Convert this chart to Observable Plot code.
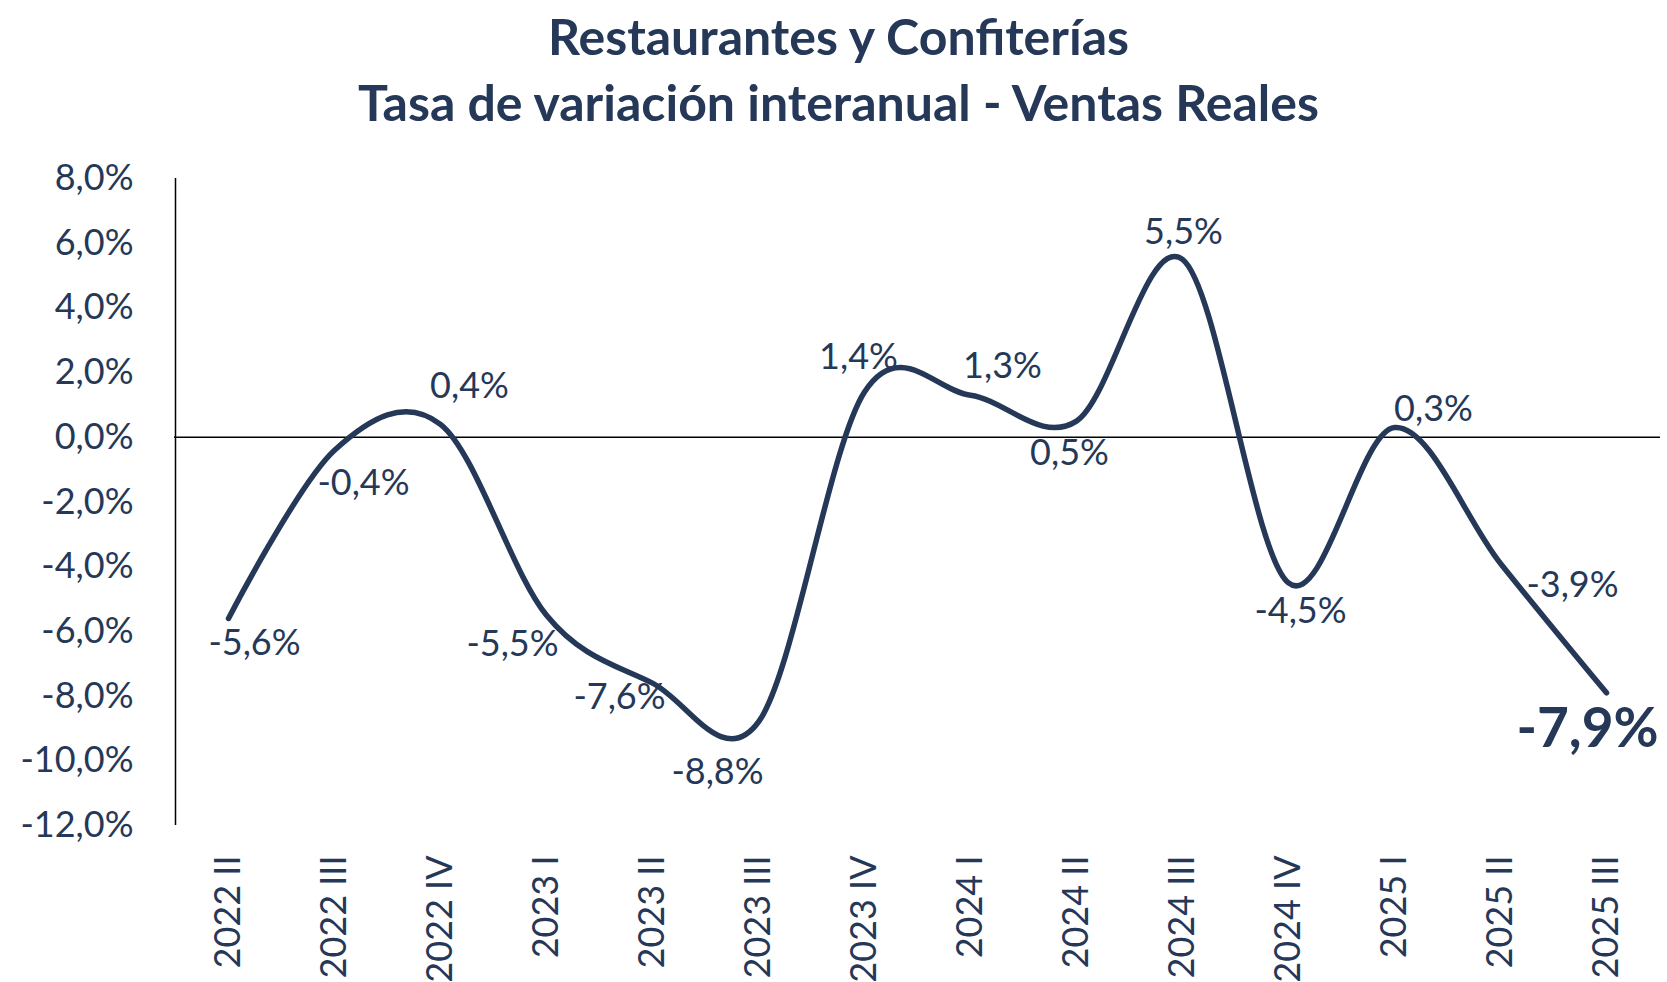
<!DOCTYPE html>
<html>
<head>
<meta charset="utf-8">
<script src="https://cdn.jsdelivr.net/npm/d3@7"></script>
<script src="https://cdn.jsdelivr.net/npm/@observablehq/plot@0.6"></script>
<style>
  html, body { margin: 0; padding: 0; background: #fff; }
  #title { height: 140px; box-sizing: border-box; padding-top: 3px; text-align: center; font-family: Lato, sans-serif; font-weight: bold; font-size: 50px; line-height: 66px; color: #253858; padding-left: 10px; }
  #chart svg { display: block; }
</style>
</head>
<body>
<div id="title">Restaurantes y Confiterías<br>Tasa de variación interanual - Ventas Reales</div>
<div id="chart"></div>
<script>
const quarters = ["2022 II","2022 III","2022 IV","2023 I","2023 II","2023 III","2023 IV","2024 I","2024 II","2024 III","2024 IV","2025 I","2025 II","2025 III"];
const values = [-5.6, -0.4, 0.4, -5.5, -7.6, -8.8, 1.4, 1.3, 0.5, 5.5, -4.5, 0.3, -3.9, -7.9];
const yTicks = [-12, -10, -8, -6, -4, -2, 0, 2, 4, 6, 8];
// label placement offsets (pixels) relative to each point
const labelDx = [26, 29, 29, -34, -33, -41, -6, 32, -7, 1, 12, 39, 72, -19];
const labelDy = [25, 33, -38, 29, 14, 50, -35, -29, 32, -27, 29, -18, 22, 37];

const fmt = v => v.toFixed(1).replace(".", ",") + "%";
const data = quarters.map((q, i) => ({q, v: values[i], i}));
const navy = "#253858";

const labels = data.map(d => Plot.text([d], {
  x: "q", y: "v", text: t => fmt(t.v),
  dx: labelDx[d.i], dy: labelDy[d.i],
  fontSize: d.i === data.length - 1 ? 55 : 36,
  fontWeight: d.i === data.length - 1 ? "bold" : "normal",
  fill: navy
}));

const chart = Plot.plot({
  width: 1667,
  height: 842,
  marginLeft: 174,
  marginRight: 7,
  marginTop: 38,
  marginBottom: 157,
  style: {fontFamily: "Lato, sans-serif", color: navy, background: "white"},
  x: {type: "point", domain: quarters, padding: 0.5, label: null},
  y: {domain: [-12, 8], label: null},
  marks: [
    Plot.axisY({ticks: yTicks, tickSize: 0, tickPadding: 41, fontSize: 36, tickFormat: fmt, fill: navy, label: null}),
    Plot.axisX({tickRotate: -90, tickSize: 0, tickPadding: 30, fontSize: 36, fill: navy, label: null}),
    Plot.ruleY([0], {stroke: "black", strokeWidth: 1.5}),
    Plot.ruleX([quarters[0]], {y1: -12, y2: 8, dx: -53, stroke: "black", strokeWidth: 1.5}),
    Plot.line(data, {x: "q", y: "v", curve: "cardinal", tension: 0, stroke: navy, strokeWidth: 5.5}),
    ...labels
  ]
});
document.getElementById("chart").appendChild(chart);
</script>
</body>
</html>
